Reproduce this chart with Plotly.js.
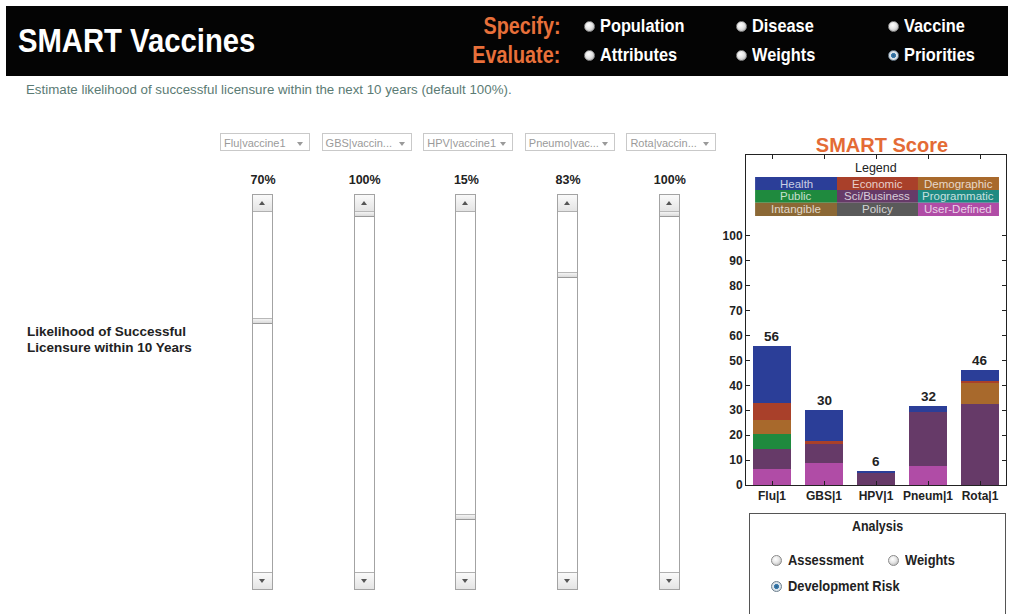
<!DOCTYPE html>
<html>
<head>
<meta charset="utf-8">
<script src="https://cdn.plot.ly/plotly-3.0.1.min.js"></script>
<style>
  html, body { margin:0; padding:0; width:1012px; height:614px; overflow:hidden; background:#fff; }
  body { position:relative; font-family:"Liberation Sans", Arial, sans-serif; }
  .abs { position:absolute; white-space:nowrap; }
  .hn { transform:scaleX(0.86); transform-origin:left center; }
  .hnr { transform:scaleX(0.86); transform-origin:right center; }
  .an { transform:scaleX(0.83); transform-origin:left center; }
  .anc { transform:scaleX(0.83); transform-origin:center center; }
  .radio { position:absolute; width:9px; height:9px; border-radius:50%;
           background:radial-gradient(circle at 40% 35%, #ffffff 0%, #e6e6e6 45%, #a8a8a8 100%);
           border:1px solid #8a8a8a; }
  .radio.sel { background:radial-gradient(circle, #2a5f8a 0%, #3f7fb0 35%, #dfe8ef 45%, #c8d0d6 100%); border-color:#6d7f8e; }
  .dd { position:absolute; height:18px; border:1px solid #c9c9c9; background:#fff; color:#9a9a9a;
        font-size:11px; line-height:18px; padding-left:3px; box-sizing:border-box; }
  .dd .arr { position:absolute; right:6px; top:8px; width:0; height:0;
             border-left:3.5px solid transparent; border-right:3.5px solid transparent; border-top:4px solid #9a9a9a; }
  .sb { position:absolute; border:1px solid #a3a3a3; box-sizing:border-box; background:#fff; }
  .btn { position:absolute; left:0; right:0; height:16px; background:linear-gradient(#fafafa,#e4e4e4); }
  .up { top:0; border-bottom:1px solid #b0b0b0; }
  .down { bottom:0; border-top:1px solid #b0b0b0; }
  .tri { position:absolute; left:50%; margin-left:-3.5px; width:0; height:0;
         border-left:3.5px solid transparent; border-right:3.5px solid transparent; }
  .up .tri { top:6px; border-bottom:4px solid #555; }
  .down .tri { top:6px; border-top:4px solid #555; }
  .thumb { position:absolute; left:0; right:0; height:6px; background:linear-gradient(#f4f4f4,#dadada);
           border-top:1px solid #b8b8b8; border-bottom:1px solid #9a9a9a; box-sizing:border-box; }
</style>
</head>
<body>
<div id="ui"></div>
<div id="chart" style="position:absolute;left:700px;top:120px;width:312px;height:400px;"></div>
<script>
// ---------------- data ----------------
const categories   = ['Flu|1', 'GBS|1', 'HPV|1', 'Pneum|1', 'Rota|1'];
const userDefined  = [6.3, 8.7, 0,   7.6,  0];
const sciBusiness  = [8.2, 7.8, 4.7, 21.7, 32.5];
const publicVals   = [6.0, 0,   0,   0,    0];
const demographic  = [5.6, 0,   0,   0,    8.6];
const economic     = [6.9, 1.2, 0,   0,    0.7];
const health       = [23.0,12.3,1.0, 2.5,  4.5];

const legendNames  = ['Health','Economic','Demographic','Public','Sci/Business','Programmatic','Intangible','Policy','User-Defined'];
const legendColors = ['#2b3e98','#a9402a','#a8692c','#1f8a3e','#663a68','#1e8a82','#8b6835','#5a5a5a','#b04ca6'];

const vaccineMenus = ['Flu|vaccine1','GBS|vaccin...','HPV|vaccine1','Pneumo|vac...','Rota|vaccin...'];
const likelihood   = [70, 100, 15, 83, 100];

const specifyOpts  = ['Population','Disease','Vaccine'];
const evaluateOpts = ['Attributes','Weights','Priorities'];
const analysisOpts = ['Assessment','Weights','Development Risk'];

// ---------------- UI (HTML) ----------------
const ui = document.getElementById('ui');
function add(html){ ui.insertAdjacentHTML('beforeend', html); }

// header
add('<div class="abs" style="left:6px;top:6px;width:1002px;height:70px;background:#040404;"></div>');
add('<div class="abs hn" style="left:18px;top:21px;font-size:34px;font-weight:bold;color:#fff;line-height:38px;">SMART Vaccines</div>');
add('<div class="abs hnr" style="right:452px;top:13px;font-size:23px;font-weight:bold;color:#e8703a;line-height:26px;">Specify:</div>');
add('<div class="abs hnr" style="right:452px;top:42px;font-size:23px;font-weight:bold;color:#e8703a;line-height:26px;">Evaluate:</div>');
const colX = [589, 741, 893];
[specifyOpts, evaluateOpts].forEach((row, r) => {
  const cy = r === 0 ? 26 : 55;
  row.forEach((t, i) => {
    const sel = (r === 1 && i === 2);
    add('<div class="radio' + (sel ? ' sel' : '') + '" style="left:' + (colX[i]-5) + 'px;top:' + (cy-5) + 'px;"></div>');
    add('<div class="abs hn" style="left:' + (colX[i]+11) + 'px;top:' + (cy-11) + 'px;font-size:19px;font-weight:bold;color:#fff;line-height:22px;">' + t + '</div>');
  });
});
add('<div class="abs" style="left:26px;top:82px;font-size:13.3px;color:#5b7b74;line-height:16px;">Estimate likelihood of successful licensure within the next 10 years (default 100%).</div>');

// left label
add('<div class="abs" style="left:27px;top:324px;font-size:13.5px;font-weight:bold;color:#222;line-height:16px;">Likelihood of Successful<br>Licensure within 10 Years</div>');

// dropdowns, percentages, scrollbars
const trackTop = 210, trackLen = 357;
vaccineMenus.forEach((m, i) => {
  const ddx = 220 + i * 101.6;
  add('<div class="dd" style="left:' + ddx + 'px;top:133px;width:90px;">' + m + '<div class="arr"></div></div>');
  const sx = 252 + i * 101.7;
  add('<div class="abs" style="left:' + (sx - 19) + 'px;width:60px;text-align:center;top:172px;font-size:12.5px;font-weight:bold;color:#222;line-height:16px;">' + likelihood[i] + '%</div>');
  const thumbTop = trackTop + (1 - likelihood[i] / 100) * trackLen - 194;
  add('<div class="sb" style="left:' + sx + 'px;top:194px;width:21px;height:396px;">' +
      '<div class="btn up"><div class="tri"></div></div>' +
      '<div class="thumb" style="top:' + thumbTop + 'px;"></div>' +
      '<div class="btn down"><div class="tri"></div></div></div>');
});

// analysis box
add('<div class="abs" style="left:749px;top:513px;width:257px;height:120px;border:1px solid #555;box-sizing:border-box;"></div>');
add('<div class="abs anc" style="left:749px;width:257px;text-align:center;top:517px;font-size:15px;font-weight:bold;color:#222;line-height:18px;">Analysis</div>');
const anPos = [[776, 560], [893, 560], [776, 586]];
analysisOpts.forEach((t, i) => {
  const [cx, cy] = anPos[i];
  add('<div class="radio' + (i === 2 ? ' sel' : '') + '" style="left:' + (cx-5) + 'px;top:' + (cy-5) + 'px;"></div>');
  add('<div class="abs an" style="left:' + (cx+12) + 'px;top:' + (cy-9) + 'px;font-size:15.5px;font-weight:bold;color:#222;line-height:18px;">' + t + '</div>');
});

// ---------------- chart (Plotly) ----------------
const stack = [
  ['User-Defined', userDefined],
  ['Sci/Business', sciBusiness],
  ['Public', publicVals],
  ['Demographic', demographic],
  ['Economic', economic],
  ['Health', health]
];
const traces = stack.map(([name, vals]) => ({
  type: 'bar', name: name, x: categories, y: vals,
  marker: { color: legendColors[legendNames.indexOf(name)], line: { width: 0 } },
  hoverinfo: 'x+y+name'
}));

const totals = categories.map((c, i) => stack.reduce((s, [, v]) => s + v[i], 0));
const annotations = categories.map((c, i) => ({
  x: c, y: totals[i], xref: 'x', yref: 'y', text: String(Math.round(totals[i])),
  showarrow: false, yanchor: 'bottom', yshift: 0,
  font: { family: 'Liberation Sans, Arial', size: 13.5, color: '#222', weight: 'bold' }
}));

// legend block inside the plot (paper coordinates)
const shapes = [];
const lgX = [0.035, 0.35, 0.6615, 0.973];
const lgY = [0.933, 0.894, 0.855, 0.815];
legendNames.forEach((n, k) => {
  const r = Math.floor(k / 3), c = k % 3;
  shapes.push({ type: 'rect', xref: 'paper', yref: 'paper', x0: lgX[c], x1: lgX[c+1], y0: lgY[r+1], y1: lgY[r],
                fillcolor: legendColors[k], line: { width: 0 }, layer: 'above' });
  annotations.push({ xref: 'paper', yref: 'paper', x: (lgX[c] + lgX[c+1]) / 2, y: (lgY[r] + lgY[r+1]) / 2,
                     text: n, showarrow: false, xanchor: 'center', yanchor: 'middle',
                     font: { family: 'Liberation Sans, Arial', size: 11.5, color: 'rgba(255,255,255,0.75)' } });
});
annotations.push({ xref: 'paper', yref: 'paper', x: 0.5, y: 0.961, text: 'Legend', showarrow: false,
                   xanchor: 'center', yanchor: 'middle', font: { family: 'Liberation Sans, Arial', size: 12.5, color: '#222' } });

const layout = {
  width: 312, height: 400,
  margin: { l: 46, r: 6, t: 35, b: 35, pad: 0 },
  paper_bgcolor: 'rgba(0,0,0,0)', plot_bgcolor: '#fff',
  barmode: 'stack', bargap: 0.27, showlegend: false,
  title: { text: 'SMART Score', xref: 'paper', x: 0.523, xanchor: 'center', yref: 'paper', y: 1, yanchor: 'bottom',
           pad: { b: 3 }, font: { family: 'Liberation Sans, Arial', size: 20, color: '#e46b35', weight: 'bold' } },
  xaxis: { type: 'category', range: [-0.5, 4.5], showline: true, linecolor: '#222', linewidth: 1, mirror: 'ticks',
           ticks: 'inside', ticklen: 4, tickcolor: '#222', showgrid: false, zeroline: false,
           tickfont: { family: 'Liberation Sans, Arial', size: 12, color: '#222', weight: 'bold' }, fixedrange: true },
  yaxis: { range: [0, 132.5], tickvals: [0,10,20,30,40,50,60,70,80,90,100], showline: true, linecolor: '#222', linewidth: 1,
           mirror: 'ticks', ticks: 'inside', ticklen: 4, tickcolor: '#222', showgrid: false, zeroline: false,
           tickfont: { family: 'Liberation Sans, Arial', size: 12, color: '#222', weight: 'bold' }, fixedrange: true },
  shapes: shapes, annotations: annotations
};
Plotly.newPlot('chart', traces, layout, { displayModeBar: false, staticPlot: true });
</script>
</body>
</html>
